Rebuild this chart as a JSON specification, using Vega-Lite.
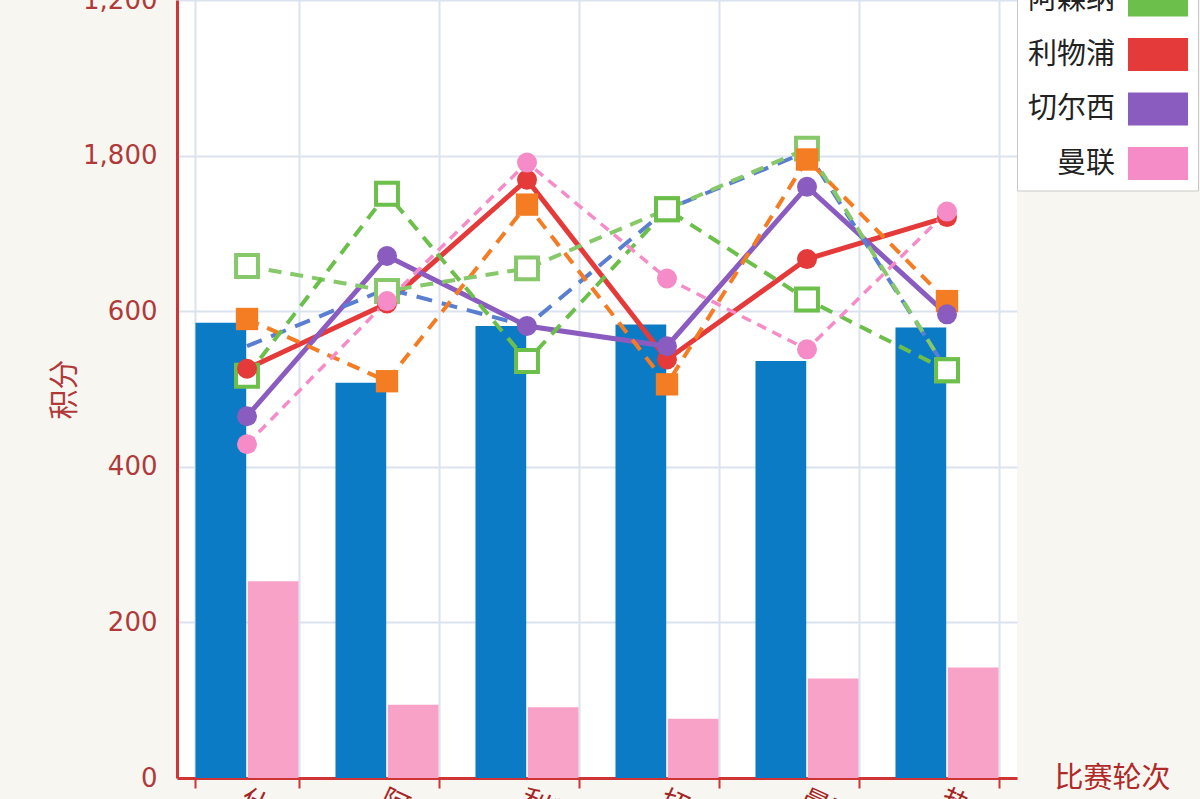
{
  "$schema": "https://vega.github.io/schema/vega-lite/v6.json",
  "autosize": {"type": "none"},
  "padding": {"left": 177, "top": 0, "right": 183, "bottom": 21},
  "width": 840,
  "height": 778,
  "background": "#f7f6f1",
  "view": {"fill": "white", "stroke": null},
  "datasets": {
    "bars": [
      {"r": "什鲁斯伯里", "kind": "a", "v": 585}, {"r": "什鲁斯伯里", "kind": "b", "v": 253},
      {"r": "阿森纳", "kind": "a", "v": 508}, {"r": "阿森纳", "kind": "b", "v": 94},
      {"r": "利物浦", "kind": "a", "v": 581}, {"r": "利物浦", "kind": "b", "v": 91},
      {"r": "切尔西", "kind": "a", "v": 583}, {"r": "切尔西", "kind": "b", "v": 76},
      {"r": "曼联", "kind": "a", "v": 536}, {"r": "曼联", "kind": "b", "v": 128},
      {"r": "热刺", "kind": "a", "v": 579}, {"r": "热刺", "kind": "b", "v": 142}
    ],
    "lines": [
      {"r": "什鲁斯伯里", "team": "曼城", "v": 555}, {"r": "阿森纳", "team": "曼城", "v": 629}, {"r": "利物浦", "team": "曼城", "v": 581}, {"r": "切尔西", "team": "曼城", "v": 731}, {"r": "曼联", "team": "曼城", "v": 805}, {"r": "热刺", "team": "曼城", "v": 524},
      {"r": "什鲁斯伯里", "team": "热刺", "v": 590}, {"r": "阿森纳", "team": "热刺", "v": 510}, {"r": "利物浦", "team": "热刺", "v": 737}, {"r": "切尔西", "team": "热刺", "v": 506}, {"r": "曼联", "team": "热刺", "v": 795}, {"r": "热刺", "team": "热刺", "v": 613},
      {"r": "什鲁斯伯里", "team": "维拉", "v": 658}, {"r": "阿森纳", "team": "维拉", "v": 626}, {"r": "利物浦", "team": "维拉", "v": 655}, {"r": "切尔西", "team": "维拉", "v": 731}, {"r": "曼联", "team": "维拉", "v": 809}, {"r": "热刺", "team": "维拉", "v": 524},
      {"r": "什鲁斯伯里", "team": "阿森纳", "v": 517}, {"r": "阿森纳", "team": "阿森纳", "v": 751}, {"r": "利物浦", "team": "阿森纳", "v": 536}, {"r": "切尔西", "team": "阿森纳", "v": 731}, {"r": "曼联", "team": "阿森纳", "v": 615}, {"r": "热刺", "team": "阿森纳", "v": 524},
      {"r": "什鲁斯伯里", "team": "利物浦", "v": 526}, {"r": "阿森纳", "team": "利物浦", "v": 610}, {"r": "利物浦", "team": "利物浦", "v": 769}, {"r": "切尔西", "team": "利物浦", "v": 538}, {"r": "曼联", "team": "利物浦", "v": 667}, {"r": "热刺", "team": "利物浦", "v": 721},
      {"r": "什鲁斯伯里", "team": "切尔西", "v": 465}, {"r": "阿森纳", "team": "切尔西", "v": 671}, {"r": "利物浦", "team": "切尔西", "v": 581}, {"r": "切尔西", "team": "切尔西", "v": 555}, {"r": "曼联", "team": "切尔西", "v": 760}, {"r": "热刺", "team": "切尔西", "v": 596},
      {"r": "什鲁斯伯里", "team": "曼联", "v": 429}, {"r": "阿森纳", "team": "曼联", "v": 613}, {"r": "利物浦", "team": "曼联", "v": 791}, {"r": "切尔西", "team": "曼联", "v": 642}, {"r": "曼联", "team": "曼联", "v": 551}, {"r": "热刺", "team": "曼联", "v": 728}
    ]
  },
  "encoding": {
    "x": {
      "field": "r", "type": "nominal",
      "scale": {"domain": ["什鲁斯伯里", "阿森纳", "利物浦", "切尔西", "曼联", "热刺"], "paddingInner": 0.264, "paddingOuter": 0.132},
      "axis": {
        "title": "比赛轮次", "titleX": 935, "titleY": 0, "titleAlign": "center", "titleBaseline": "middle",
        "titleFont": "Noto Sans CJK SC", "titleFontSize": 29, "titleFontWeight": "normal", "titleColor": "#b02a2a",
        "labelFont": "Noto Sans CJK SC", "labelFontSize": 28, "labelColor": "#a52525", "labelAngle": 25, "labelAlign": "left", "labelBaseline": "top", "labelDx": -6, "labelPadding": -3,
        "domainColor": "#cf3535", "domainWidth": 3, "tickColor": "#cf3535", "tickWidth": 2, "tickSize": 10, "tickBand": "extent",
        "grid": true, "gridColor": "#dbe3ef", "gridWidth": 2
      }
    },
    "y": {
      "field": "v", "type": "quantitative",
      "scale": {"domain": [0, 1000], "nice": false},
      "axis": {
        "title": "积分", "titleX": -113, "titleY": 389, "titleAlign": "center", "titleBaseline": "middle",
        "titleFont": "Noto Sans CJK SC", "titleFontSize": 30, "titleFontWeight": "normal", "titleColor": "#b03a3a",
        "values": [0, 200, 400, 600, 800, 1000],
        "labelExpr": "datum.value == 800 ? '1,800' : datum.value == 1000 ? '1,200' : format(datum.value, ',')",
        "labelFont": "DejaVu Sans", "labelFontSize": 26, "labelColor": "#b03a3a", "labelPadding": 20,
        "ticks": false, "domainColor": "#cf3535", "domainWidth": 3,
        "grid": true, "gridColor": "#dbe3ef", "gridWidth": 2
      }
    }
  },
  "layer": [
    {
      "data": {"name": "bars"},
      "mark": {"type": "bar"},
      "encoding": {
        "xOffset": {"field": "kind", "type": "nominal", "scale": {"domain": ["a", "b"], "paddingInner": 0.03}},
        "fill": {"field": "kind", "type": "nominal", "scale": {"domain": ["a", "b"], "range": ["#0a7bc4", "#f8a2c8"]}, "legend": null}
      }
    },
    {
      "data": {"name": "lines"},
      "transform": [{"filter": "datum.team == '利物浦' || datum.team == '切尔西'"}],
      "mark": {"type": "line", "strokeWidth": 5},
      "encoding": {
        "color": {
          "field": "team", "type": "nominal",
          "scale": {"domain": ["曼城", "热刺", "维拉", "阿森纳", "利物浦", "切尔西", "曼联"], "range": ["#5a7fd0", "#f47c22", "#86c86a", "#6cbf4a", "#e43a3a", "#8b5cc0", "#f58cc8"]},
          "legend": {
            "title": null, "orient": "none", "legendX": 840, "legendY": -188.5,
            "symbolType": "M-2,-1.1H2V1.1H-2Z", "symbolSize": 900, "symbolStrokeWidth": 0,
            "labelAlign": "right", "labelOffset": -58, "symbolOffset": 116,
            "labelFont": "Noto Sans CJK SC", "labelFontSize": 29, "labelColor": "#222222", "labelLimit": 300,
            "rowPadding": 20.5, "padding": 10, "strokeColor": "#c8c8c8", "fillColor": "white", "cornerRadius": 0,
            "encode": {"symbols": {"update": {"fill": {"scale": "color", "field": "value"}, "stroke": {"value": "transparent"}, "strokeWidth": {"value": 0}, "opacity": {"value": 1}}}}
          }
        }
      }
    },
    {
      "data": {"name": "lines"},
      "transform": [{"filter": "datum.team == '曼城'"}],
      "mark": {"type": "line", "strokeWidth": 4, "strokeDash": [16, 10]},
      "encoding": {"color": {"field": "team", "type": "nominal"}}
    },
    {
      "data": {"name": "lines"},
      "transform": [{"filter": "datum.team == '热刺' || datum.team == '维拉' || datum.team == '阿森纳'"}],
      "mark": {"type": "line", "strokeWidth": 4, "strokeDash": [13, 9]},
      "encoding": {"color": {"field": "team", "type": "nominal"}}
    },
    {
      "data": {"name": "lines"},
      "transform": [{"filter": "datum.team == '曼联'"}],
      "mark": {"type": "line", "strokeWidth": 3.5, "strokeDash": [10, 7]},
      "encoding": {"color": {"field": "team", "type": "nominal"}}
    },
    {
      "data": {"name": "lines"},
      "transform": [{"filter": "datum.team == '维拉' || datum.team == '阿森纳'"}],
      "mark": {"type": "point", "shape": "square", "filled": true, "fill": "white", "strokeWidth": 4, "size": 480, "opacity": 1},
      "encoding": {
        "stroke": {"field": "team", "type": "nominal", "scale": {"domain": ["维拉", "阿森纳"], "range": ["#86c86a", "#6cbf4a"]}, "legend": null}
      }
    },
    {
      "data": {"name": "lines"},
      "transform": [{"filter": "datum.team == '热刺'"}],
      "mark": {"type": "point", "shape": "square", "filled": true, "size": 500, "opacity": 1},
      "encoding": {"color": {"field": "team", "type": "nominal"}}
    },
    {
      "data": {"name": "lines"},
      "transform": [{"filter": "datum.team == '利物浦' || datum.team == '切尔西' || datum.team == '曼联'"}],
      "mark": {"type": "point", "shape": "circle", "filled": true, "size": 400, "opacity": 1},
      "encoding": {"color": {"field": "team", "type": "nominal"}}
    }
  ]
}
